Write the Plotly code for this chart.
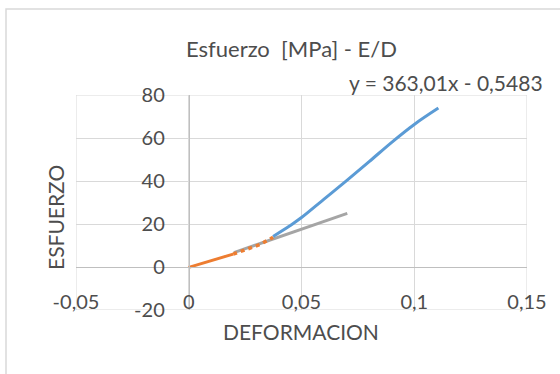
import plotly.graph_objects as go

# ---- data ----
strain_blue = [0.0374, 0.0450, 0.0500, 0.0600, 0.0700, 0.0800, 0.0900, 0.1000, 0.1107]
stress_blue = [14.2, 19.3, 23.0, 31.6, 40.2, 49.0, 58.0, 66.3, 73.9]

strain_orange = [0.0, 0.0049, 0.0138, 0.0197, 0.0256, 0.0315, 0.0374]
stress_orange = [-0.2, 1.4, 4.2, 6.0, 8.0, 10.4, 13.8]

trend_slope = 363.01
trend_intercept = -0.5483
trend_x = [0.0200, 0.0703]
trend_y = [trend_slope * x + trend_intercept for x in trend_x]

x_ticks = [-0.05, 0, 0.05, 0.1, 0.15]
x_ticktext = ["-0,05", "0", "0,05", "0,1", "0,15"]
y_ticks = [-20, 0, 20, 40, 60, 80]
y_ticktext = ["-20", "0", "20", "40", "60", "80"]

FONT = "Lato"
TXT = "#4d4d4d"
GRID = "#d9d9d9"
AXL = "#bfbfbf"

fig = go.Figure()
split = 4  # orange drawn solid up to this index, dotted after
fig.add_trace(go.Scatter(x=strain_orange[:split], y=stress_orange[:split], mode="lines",
                         line=dict(color="#ED7D31", width=3), showlegend=False))
fig.add_trace(go.Scatter(x=trend_x, y=trend_y, mode="lines",
                         line=dict(color="#A5A5A5", width=3), showlegend=False))
fig.add_trace(go.Scatter(x=strain_orange[split - 1:], y=stress_orange[split - 1:], mode="lines",
                         line=dict(color="#ED7D31", width=3.5, dash="4px,4px"), showlegend=False))
fig.add_trace(go.Scatter(x=strain_blue, y=stress_blue, mode="lines", line_shape="spline",
                         line=dict(color="#5B9BD5", width=3, smoothing=1), showlegend=False))

fig.update_layout(
    width=560, height=374,
    margin=dict(l=76, r=33, t=95, b=64),
    paper_bgcolor="white", plot_bgcolor="white",
    font=dict(family=FONT, size=20, color=TXT),
    title=dict(text="Esfuerzo&nbsp;&nbsp;[MPa] - E/D", x=0.5205, xanchor="center",
               y=1 - 49 / 374, yanchor="middle", font=dict(family=FONT, size=22, color=TXT)),
    xaxis=dict(range=[-0.05, 0.15], tickvals=x_ticks, ticktext=x_ticktext,
               showgrid=True, gridcolor=GRID, gridwidth=1, zeroline=False,
               showline=True, linecolor=AXL, linewidth=1,
               anchor="free", position=0.2, ticks="", ticklabelstandoff=17,
               tickfont=dict(family=FONT, size=20, color=TXT)),
    yaxis=dict(range=[-20, 80], tickvals=y_ticks, ticktext=y_ticktext,
               showgrid=True, gridcolor=GRID, gridwidth=1, zeroline=False,
               showline=True, linecolor=AXL, linewidth=1,
               anchor="free", position=0.25, ticks="", ticklabelstandoff=20,
               tickfont=dict(family=FONT, size=20, color=TXT)),
    shapes=[
        dict(type="rect", xref="paper", yref="paper", x0=-0.1552, x1=1.3, y0=-0.6, y1=1.4,
             line=dict(color=GRID, width=1.5), fillcolor="rgba(0,0,0,0)", layer="below"),
        dict(type="rect", xref="x", yref="y", x0=-0.05, x1=0.15, y0=-20, y1=80,
             line=dict(color=GRID, width=1), layer="below"),
    ],
    annotations=[
        dict(text="y = 363,01x - 0,5483", xref="paper", yref="paper", x=0.8215, y=1.056,
             xanchor="center", yanchor="middle", showarrow=False,
             font=dict(family=FONT, size=21, color=TXT)),
        dict(text="DEFORMACION", xref="paper", yref="paper", x=(300.7 - 76) / 451,
             y=(310 - 331.7) / 215, xanchor="center", yanchor="middle", showarrow=False,
             font=dict(family=FONT, size=21, color=TXT)),
        dict(text="ESFUERZO", xref="paper", yref="paper", x=(55 - 76) / 451,
             y=(310 - 218) / 215, xanchor="center", yanchor="middle", showarrow=False,
             textangle=-90, font=dict(family=FONT, size=21, color=TXT)),
    ],
)

fig.write_html("out.html")
